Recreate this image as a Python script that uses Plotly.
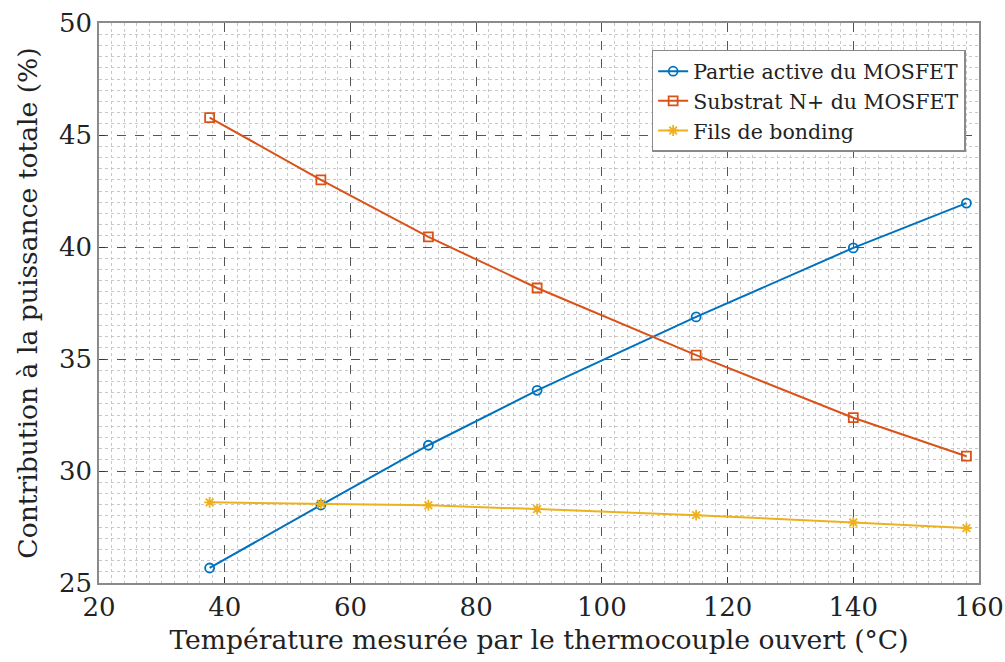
import plotly.graph_objects as go

temps = [37.6, 55.3, 72.4, 89.7, 115.0, 140.0, 158.0]
active = [25.67, 28.48, 31.15, 33.6, 36.88, 39.96, 41.96]
substrat = [45.78, 43.0, 40.45, 38.17, 35.17, 32.38, 30.66]
bonding = [28.6, 28.54, 28.47, 28.3, 28.03, 27.7, 27.45]

names = ["Partie active du MOSFET", "Substrat N+ du MOSFET", "Fils de bonding"]
colors = ["#0072BD", "#D95319", "#EDB120"]
symbols = ["circle-open", "square-open", "asterisk-open"]

FONT = "DejaVu Serif"

fig = go.Figure()
for ys, n, c, s in zip([active, substrat, bonding], names, colors, symbols):
    fig.add_trace(go.Scatter(
        x=temps, y=ys, name=n, mode="lines+markers",
        line=dict(color=c, width=2),
        marker=dict(symbol=s, size=9, color=c, line=dict(color=c, width=1.8)),
    ))

axis_common = dict(
    showline=True, linecolor="#8a8a8a", linewidth=1.5, mirror=True,
    ticks="inside", ticklen=6, tickcolor="#333",
    showgrid=True, gridcolor="#555", griddash="dash", gridwidth=1,
    zeroline=False, automargin=False,
    tickfont=dict(family=FONT, size=26, color="#222"),
    title_font=dict(family=FONT, size=26.6, color="#222"),
)

fig.update_xaxes(
    range=[20, 160], dtick=20, tick0=20,
    minor=dict(dtick=2, showgrid=True, gridcolor="#c8c8c8", griddash="dot", gridwidth=1),
    title_text="Température mesurée par le thermocouple ouvert (°C)",
    title_standoff=9,
    **axis_common,
)
fig.update_yaxes(
    range=[25, 50], dtick=5, tick0=25,
    minor=dict(dtick=0.5, showgrid=True, gridcolor="#c8c8c8", griddash="dot", gridwidth=1),
    title_text="Contribution à la puissance totale (%)",
    title_standoff=14,
    **axis_common,
)

fig.update_layout(
    width=1005, height=662,
    margin=dict(l=99, r=26, t=23, b=79),
    paper_bgcolor="white", plot_bgcolor="white",
    font=dict(family=FONT, color="#222"),
    legend=dict(
        x=0.628, y=0.952, xanchor="left", yanchor="top",
        bgcolor="white", bordercolor="#8a8a8a", borderwidth=1.5,
        font=dict(family=FONT, size=20.5, color="#222"),
        itemwidth=30, tracegroupgap=0,
    ),
)

fig.write_html(
    "out.html",
    config={"displayModeBar": False},
    post_script="document.body.style.margin='0';document.body.style.overflow='hidden';",
)
